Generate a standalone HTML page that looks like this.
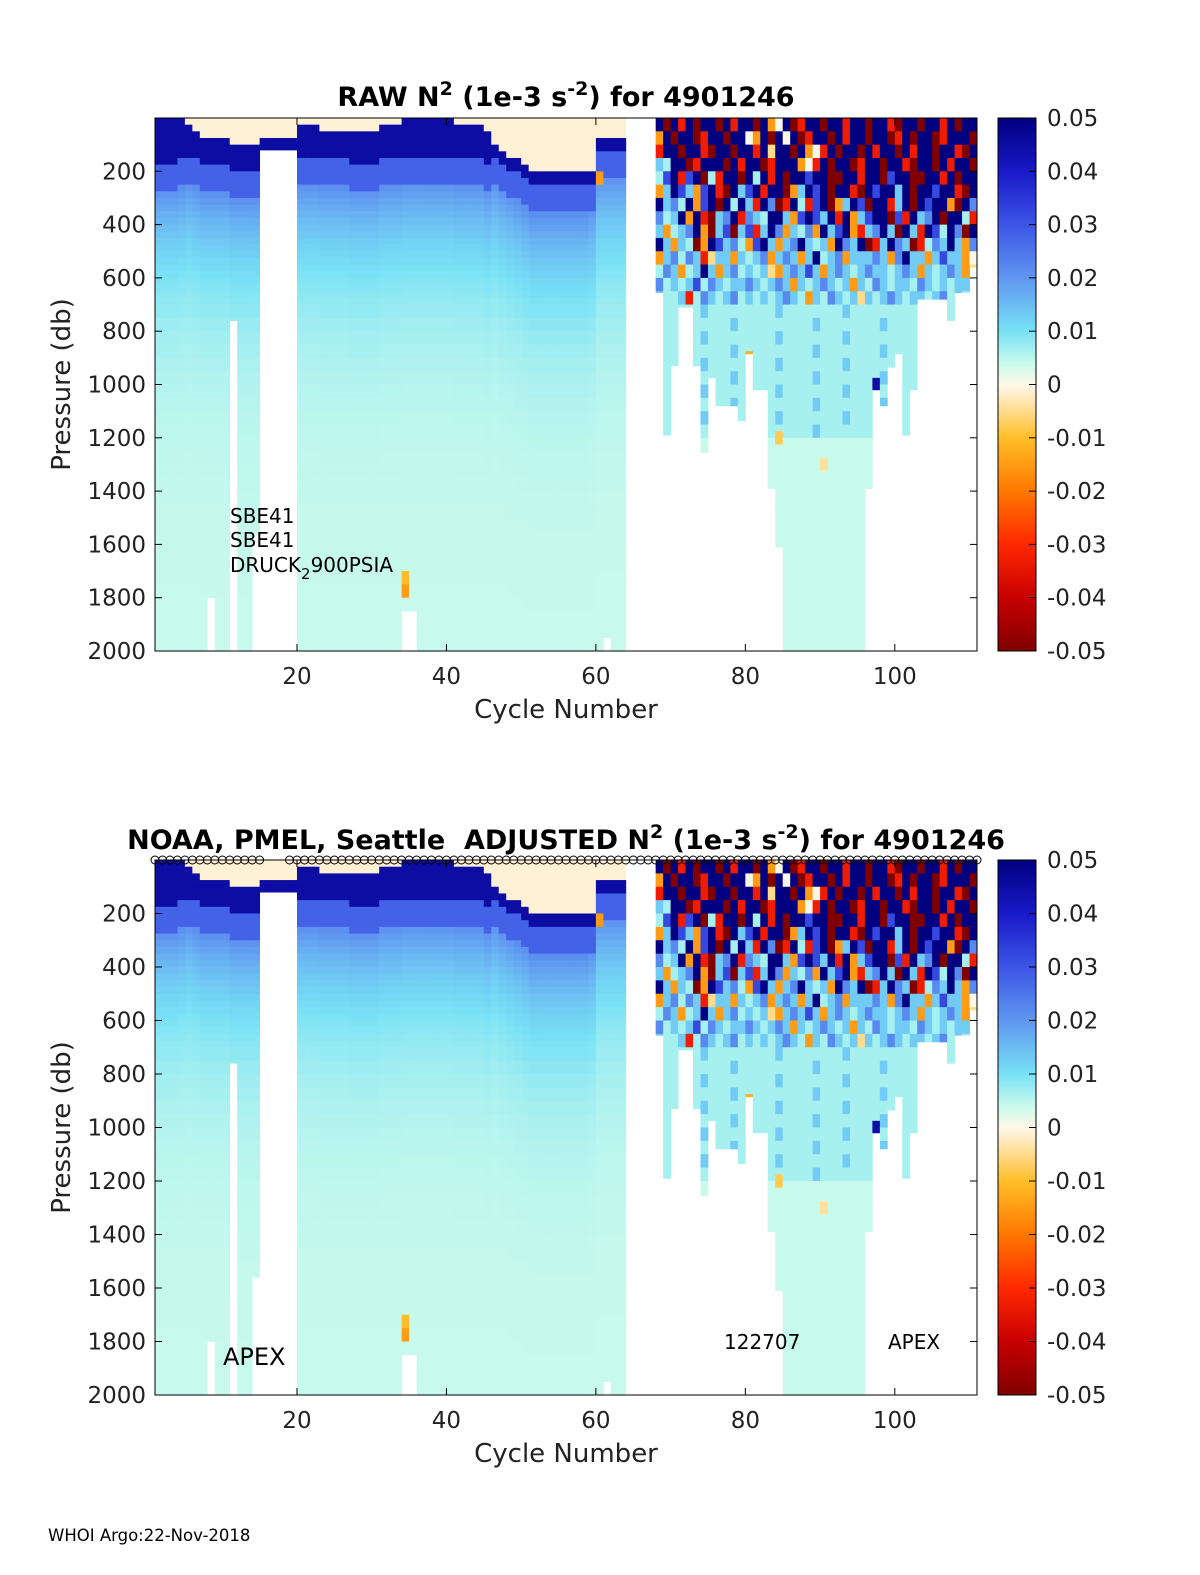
<!DOCTYPE html>
<html><head><meta charset="utf-8">
<style>
body{margin:0;background:#fff;}
svg{display:block;font-family:"DejaVu Sans","Liberation Sans",sans-serif;}
</style></head>
<body>
<svg id="root" width="1200" height="1575" viewBox="0 0 1200 1575">
<rect width="1200" height="1575" fill="#fff"/>
</svg>
<script>
// ---- data ----
const cycles = Array.from({length:110},(_,i)=>i+1);
const maxP = [2000,2000,2000,2000,2000,2000,2000,1800,2000,2000,760,2000,2000,1560,120,120,120,120,120,
2000,2000,2000,2000,2000,2000,2000,2000,2000,2000,2000,2000,2000,2000,1850,1850,
2000,2000,2000,2000,2000,2000,2000,2000,2000,2000,2000,2000,2000,2000,2000,2000,2000,2000,2000,2000,2000,2000,2000,2000,2000,1950,2000,2000,
0,0,0,0,655,1190,930,710,710,930,1255,975,1080,1080,1080,1135,885,1020,1020,1390,1610,
2000,2000,2000,2000,2000,2000,2000,2000,2000,2000,2000,1390,1020,1080,935,885,1190,1020,680,680,680,680,760,655,655,560];
const mixedLayer = [0,0,0,0,20,40,60,60,60,60,80,80,80,80,60,60,60,60,60,20,20,20,30,30,30,30,40,40,40,40,20,20,20,
0,0,0,0,0,0,0,10,10,10,10,30,80,110,130,150,170,200,200,200,200,200,200,200,200,180,60,60,60,60];
const darkThick = [160,160,160,150,110,110,110,110,110,110,110,110,110,110,50,50,50,50,50,120,120,120,120,120,120,120,120,120,120,120,120,120,120,
130,130,130,130,130,130,130,130,130,130,130,130,50,50,50,50,50,50,50,50,50,50,50,50,50,50,50,50,50,50];
const noisyRows = [
"DMDRDMDDMDRDDMDOWDMRDDMDDRDDMDDRMDDMDDRDMDD",
"ODMDDMRDDMDDWODMDWDMRDDMDRDDMDDMRDMDDMRDDDM",
"RDDMDDRMDDMDDRDYDDMDOWRDMDDMDRDDMDRDDMDDRMD",
"LCDDMRDDDMDRDDMRDDDOWRDMDDMRDDMDDRMDDMDRDDM",
"CBDRBDMCRDDMDCDRDMDDBDDMMDDRDDMBDDMMDDRDMDD",
"OLDBLOBDRMDLBDRDDMOLDBDMDDRMDBDDLDMDDBDDRMD",
"DLbCDOBDMDCDLRDbMRDCRBDMOLDBMDDRLDMDBDDOMDb",
"bCLDODRMLbDRbLCDDLOBDBLDRDOLBDDMBRDLbDMDDCR",
"LOCLbDOMLBMLBRLDbOLCbODLBDORLbDLMDLRDBCDbMD",
"DLOLCMODBLbCOBDLOLbDLCLODbLDMRLDbLMRCbLDLOb",
"OLbCbLRYLLOLCLbOLbLOLDCLbOLLLbLObDLLOLBLLOW",
"CbLOCLDLOLbCLCLYOLbLBLOLbLCLbLLCLbLOLCLbLOY",
"bCLCLBCbLCLLbLCLbLOLCLbLCLOLCbLCLLCbLCLCLLC",
"LCCLRCbLCLbCLCLCLbLCOLCbLCLYLCLbLCLLCLbCLCL"];
const deepRowA = "CCCLCCCCCCLCCCCCCCCCCLCCCCCCCCLCCCCCCCCCCCC";
const deepRowB = "CCCCCCLCCCCCCCCCLCCCCCCCCLCCCCCCCCCLCCCCCCC";
const specialCycles = [75, 97, 80, 84, 34, 34, 60, 90];
const specialPress  = [1000,1000,900,1200,1725,1775,225,1300];
const specialVals   = [-0.05,0.045,-0.012,-0.008,-0.01,-0.015,-0.015,-0.004];
const charVals = {D:0.05,B:0.032,b:0.022,L:0.013,C:0.0065,W:0.0005,Y:-0.005,O:-0.015,R:-0.033,M:-0.05};
const yTicks = [200,400,600,800,1000,1200,1400,1600,1800,2000];
const xTicks = [20,40,60,80,100];
const cbTicks = [0.05,0.04,0.03,0.02,0.01,0,-0.01,-0.02,-0.03,-0.04,-0.05];
const cbLabels = ["0.05","0.04","0.03","0.02","0.01","0","-0.01","-0.02","-0.03","-0.04","-0.05"];

// ---- colormap ----
const stops=[[-0.05,[128,0,0]],[-0.04,[200,0,0]],[-0.03,[255,40,0]],[-0.02,[255,120,0]],[-0.01,[255,190,40]],[-0.002,[255,236,200]],[0,[255,248,232]],[0.004,[200,250,236]],[0.01,[120,225,245]],[0.02,[95,150,240]],[0.03,[60,85,230]],[0.04,[25,25,200]],[0.05,[0,0,128]]];
function color(v){
  if(!isFinite(v)) v=0.01;
  v=Math.max(-0.05,Math.min(0.05,v));
  for(let i=0;i<stops.length-1;i++){
    const a=stops[i],b=stops[i+1];
    if(v<=b[0]){const t=(v-a[0])/(b[0]-a[0]);
      return 'rgb('+a[1].map((x,k)=>Math.round(x+(b[1][k]-x)*t)).join(',')+')';}
  }
  return 'rgb(0,0,128)';
}
function smoothVal(c,p){
  const m=mixedLayer[c-1]??60, t=darkThick[c-1]??50;
  if(p<m) return -0.0012;
  if(p<m+t) return 0.045;
  if(p<m+t+100) return 0.028;
  const d=p-(m+t+100);
  return 0.004+0.017*Math.exp(-d/300);
}
function cellVal(c,p){
  for(let k=0;k<specialCycles.length;k++){
    if(specialCycles[k]===c && Math.abs(specialPress[k]-p)<26) return specialVals[k];
  }
  if(c<=63) return smoothVal(c,p);
  const j=c-68;
  if(p<700){const row=noisyRows[Math.floor(p/50)]; return charVals[row[j]]??0.012;}
  if(p<1200){const row=(Math.floor(p/50)%2)?deepRowA:deepRowB; return charVals[row[j]]??0.0065;}
  return 0.004;
}

const NS='http://www.w3.org/2000/svg';
const root=document.getElementById('root');
function el(tag,attrs,parent){const e=document.createElementNS(NS,tag);for(const k in attrs)e.setAttribute(k,attrs[k]);(parent||root).appendChild(e);return e;}

const X0=155,X1=977;
function xScale(c){return X0+(c-1)*(X1-X0)/110;}

function panel(id,Y0,Y1,titleHTML,titleX,titleY,markers){
  const yScale=p=>Y0+p*(Y1-Y0)/2000;
  const g=el('g',{});
  
  
  cycles.forEach(c=>{
    const mp=maxP[c-1]; if(!mp) return;
    let p=0;
    while(p<mp){
      const step=(c<=63&&p>=700)?50:25;
      const pe=Math.min(p+step,mp);
      const r=el('rect',{x:xScale(c).toFixed(2),y:yScale(p).toFixed(2),width:((X1-X0)/110+0.4).toFixed(2),height:(yScale(pe)-yScale(p)+0.4).toFixed(2),fill:color(cellVal(c,p+1))},g);
      
      
      p=pe;
    }
  });
  const ax=el('rect',{x:X0,y:Y0,width:X1-X0,height:Y1-Y0,fill:'none',stroke:'#000','stroke-width':1});
  
  
  yTicks.forEach(t=>{
    const y=yScale(t);
    el('line',{x1:X0,x2:X0+7,y1:y,y2:y,stroke:'#000'});
    el('line',{x1:X1,x2:X1-7,y1:y,y2:y,stroke:'#000'});
    const tx=el('text',{x:146,y:y+8,'font-size':23,'text-anchor':'end',fill:'#222'});
    tx.textContent=t;
    
    
  });
  xTicks.forEach(t=>{
    const x=xScale(t);
    el('line',{x1:x,x2:x,y1:Y1,y2:Y1-7,stroke:'#000'});
    el('line',{x1:x,x2:x,y1:Y0,y2:Y0+7,stroke:'#000'});
    const tx=el('text',{x:x,y:Y1+33,'font-size':23,'text-anchor':'middle',fill:'#222'});
    tx.textContent=t;
    
    
  });
  const yl=el('text',{x:0,y:0,'font-size':26,'text-anchor':'middle',fill:'#222',transform:'translate(70,'+((Y0+Y1)/2)+') rotate(-90)'});
  yl.textContent='Pressure (db)';
  
  
  const xl=el('text',{x:566,y:Y1+67,'font-size':26,'text-anchor':'middle',fill:'#222'});
  xl.textContent='Cycle Number';
  
  
  const ti=el('text',{x:titleX,y:titleY,'font-size':27,'font-weight':'bold','text-anchor':'middle',fill:'#000'});
  ti.innerHTML=titleHTML;
  
  
  // colorbar
  const gid='grad'+id;
  const defs=el('defs',{});
  const lg=el('linearGradient',{id:gid,x1:0,y1:0,x2:0,y2:1},defs);
  for(let i=stops.length-1;i>=0;i--){el('stop',{offset:((0.05-stops[i][0])/0.1).toFixed(3),'stop-color':color(stops[i][0])},lg);}
  const cb=el('rect',{x:998,y:Y0,width:38,height:Y1-Y0,fill:'url(#'+gid+')',stroke:'#000'});
  
  
  cbTicks.forEach((v,i)=>{
    const y=Y0+(0.05-v)/0.1*(Y1-Y0);
    el('line',{x1:1029,x2:1036,y1:y,y2:y,stroke:'#000'});
    const tx=el('text',{x:1047,y:y+8,'font-size':23,fill:'#222'});
    tx.textContent=cbLabels[i];
    
    
  });
  if(markers){
    cycles.concat([111]).forEach(c=>{
      if(c>=16&&c<=18) return;
      const m=el('circle',{cx:xScale(c),cy:Y0,r:4,fill:'none',stroke:'#000','stroke-width':1});
      
      
    });
  }
}
panel('raw',118,651,'RAW N<tspan dy="-11" font-size="19">2</tspan><tspan dy="11"> (1e-3 s</tspan><tspan dy="-11" font-size="19">-2</tspan><tspan dy="11">) for 4901246</tspan>',566,106,false);
panel('adjusted',860,1395,'NOAA, PMEL, Seattle\u00a0 ADJUSTED N<tspan dy="-11" font-size="19">2</tspan><tspan dy="11"> (1e-3 s</tspan><tspan dy="-11" font-size="19">-2</tspan><tspan dy="11">) for 4901246</tspan>',566,849,true);

function label(txt,x,y,size,name){
  const t=el('text',{x:x,y:y,'font-size':size,fill:'#000'});
  t.textContent=txt;
  
  
  return t;
}
label('SBE41',230,523,20,'sensor-label-1');
label('SBE41',230,547,20,'sensor-label-2');
const dr=label('',230,572,20,'sensor-label-3');
dr.innerHTML='DRUCK<tspan dy="7" font-size="15">2</tspan><tspan dy="-7">900PSIA</tspan>';
label('APEX',223,1365,24,'float-type-label');
label('122707',724,1349,20,'float-serial-label');
label('APEX',888,1349,20,'float-type-label-2');
label('WHOI Argo:22-Nov-2018',48,1541,16.5,'footer-credit');
</script>
</body></html>
